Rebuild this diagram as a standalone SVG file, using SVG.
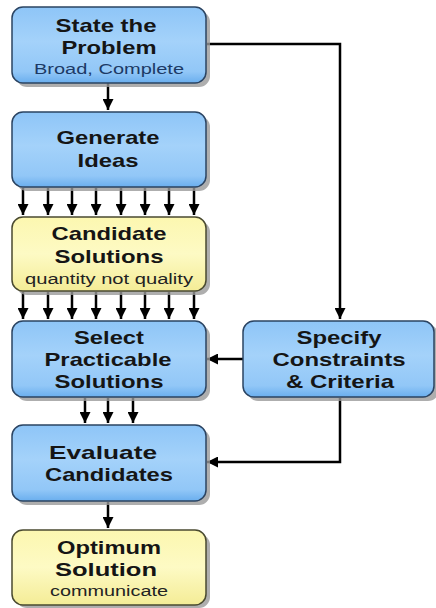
<svg xmlns="http://www.w3.org/2000/svg" width="436" height="608" viewBox="0 0 436 608">
<defs>
<linearGradient id="gb" x1="0" y1="0" x2="0" y2="1">
<stop offset="0" stop-color="#8ec5f7"/>
<stop offset="0.45" stop-color="#a4d2fa"/>
<stop offset="0.85" stop-color="#92c7f7"/>
<stop offset="1" stop-color="#6aaeee"/>
</linearGradient>
<linearGradient id="gy" x1="0" y1="0" x2="0" y2="1">
<stop offset="0" stop-color="#fcf7b0"/>
<stop offset="0.5" stop-color="#fdfac4"/>
<stop offset="1" stop-color="#f4ec96"/>
</linearGradient>
<marker id="ah" viewBox="0 0 10 10" refX="10" refY="5" markerWidth="11" markerHeight="11" markerUnits="userSpaceOnUse" orient="auto">
<path d="M0,0 L10,5 L0,10 z" fill="#000"/>
</marker>
</defs>
<style>
.sh{fill:#9a9a9a;opacity:0.8}
.bb{fill:url(#gb);stroke:#2b4462;stroke-width:1.5}
.yb{fill:url(#gy);stroke:#4a4a30;stroke-width:1.5}
.t{font-family:"Liberation Sans",Arial,sans-serif;font-weight:bold;font-size:19px;fill:#151515;text-anchor:middle}
.s{font-family:"Liberation Sans",Arial,sans-serif;font-size:15.5px;text-anchor:middle}
.c{fill:none;stroke:#000;stroke-width:2.5;marker-end:url(#ah)}
</style>
<rect width="436" height="608" fill="#fff"/>
<g id="connectors">
<path class="c" d="M108,83 V110"/>
<path class="c" d="M23,188 V215"/>
<path class="c" d="M48,188 V215"/>
<path class="c" d="M72,188 V215"/>
<path class="c" d="M96,188 V215"/>
<path class="c" d="M121,188 V215"/>
<path class="c" d="M145,188 V215"/>
<path class="c" d="M169,188 V215"/>
<path class="c" d="M194,188 V215"/>
<path class="c" d="M23,292 V319"/>
<path class="c" d="M48,292 V319"/>
<path class="c" d="M72,292 V319"/>
<path class="c" d="M96,292 V319"/>
<path class="c" d="M121,292 V319"/>
<path class="c" d="M145,292 V319"/>
<path class="c" d="M169,292 V319"/>
<path class="c" d="M194,292 V319"/>
<path class="c" d="M85,398 V423"/>
<path class="c" d="M108,398 V423"/>
<path class="c" d="M133,398 V423"/>
<path class="c" d="M108,502 V528"/>
<path class="c" d="M207,44 H340 V319"/>
<path class="c" d="M243,359 H207"/>
<path class="c" d="M340,398 V462 H207"/>
</g>
<g id="n1">
<rect class="sh" x="16" y="11" width="194" height="76" rx="11"/>
<rect class="bb" x="12" y="7" width="194" height="76" rx="11"/>
<text class="t" x="106" y="32" textLength="101" lengthAdjust="spacingAndGlyphs">State the</text>
<text class="t" x="109" y="54" textLength="95" lengthAdjust="spacingAndGlyphs">Problem</text>
<text class="s" x="109" y="74" fill="#1c3a66" textLength="150" lengthAdjust="spacingAndGlyphs">Broad, Complete</text>
</g>
<g id="n2">
<rect class="sh" x="16" y="116" width="194" height="75" rx="11"/>
<rect class="bb" x="12" y="112" width="194" height="75" rx="11"/>
<text class="t" x="108" y="144" textLength="103" lengthAdjust="spacingAndGlyphs">Generate</text>
<text class="t" x="108" y="167" textLength="61" lengthAdjust="spacingAndGlyphs">Ideas</text>
</g>
<g id="n3">
<rect class="sh" x="16" y="221" width="194" height="74" rx="11"/>
<rect class="yb" x="12" y="217" width="194" height="74" rx="11"/>
<text class="t" x="109" y="240" textLength="115" lengthAdjust="spacingAndGlyphs">Candidate</text>
<text class="t" x="109" y="263" textLength="109" lengthAdjust="spacingAndGlyphs">Solutions</text>
<text class="s" x="109" y="284" fill="#222" textLength="168" lengthAdjust="spacingAndGlyphs">quantity not quality</text>
</g>
<g id="n4">
<rect class="sh" x="16" y="325" width="194" height="76" rx="11"/>
<rect class="bb" x="12" y="321" width="194" height="76" rx="11"/>
<text class="t" x="109" y="344" textLength="70" lengthAdjust="spacingAndGlyphs">Select</text>
<text class="t" x="108" y="366" textLength="127" lengthAdjust="spacingAndGlyphs">Practicable</text>
<text class="t" x="109" y="388" textLength="109" lengthAdjust="spacingAndGlyphs">Solutions</text>
</g>
<g id="n5">
<rect class="sh" x="247" y="325" width="192" height="76" rx="11"/>
<rect class="bb" x="243" y="321" width="191" height="76" rx="11"/>
<text class="t" x="339" y="344" textLength="85" lengthAdjust="spacingAndGlyphs">Specify</text>
<text class="t" x="339" y="366" textLength="133" lengthAdjust="spacingAndGlyphs">Constraints</text>
<text class="t" x="340" y="388" textLength="108" lengthAdjust="spacingAndGlyphs">&amp; Criteria</text>
</g>
<g id="n6">
<rect class="sh" x="16" y="429" width="194" height="76" rx="11"/>
<rect class="bb" x="12" y="425" width="194" height="76" rx="11"/>
<text class="t" x="103" y="459" textLength="108" lengthAdjust="spacingAndGlyphs">Evaluate</text>
<text class="t" x="109" y="481" textLength="128" lengthAdjust="spacingAndGlyphs">Candidates</text>
</g>
<g id="n7">
<rect class="sh" x="16" y="534" width="194" height="74" rx="11"/>
<rect class="yb" x="12" y="530" width="194" height="75" rx="11"/>
<text class="t" x="109" y="554" textLength="104" lengthAdjust="spacingAndGlyphs">Optimum</text>
<text class="t" x="106" y="576" textLength="102" lengthAdjust="spacingAndGlyphs">Solution</text>
<text class="s" x="109" y="596" fill="#222" textLength="118" lengthAdjust="spacingAndGlyphs">communicate</text>
</g>
</svg>
